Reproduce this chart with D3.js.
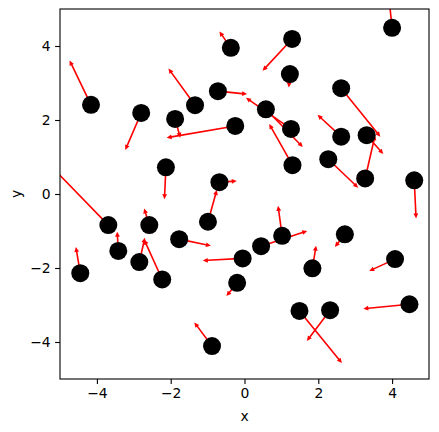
<!DOCTYPE html>
<html>
<head>
<meta charset="utf-8">
<script src="https://cdn.jsdelivr.net/npm/d3@7"></script>
<style>
  body { margin: 0; background: #fff; }
  text { font-family: "DejaVu Sans", sans-serif; fill: #000; }
</style>
</head>
<body>
<script>
// point positions (data units)
var xs = [-0.37, 1.29, 4.00, 1.23, -4.16, -2.80, -1.88, -1.34, -0.72, -0.25,
          0.58, 1.26, 2.62, 1.30, 2.62, 3.31, 2.27, 3.27, 4.60, -2.13,
          -0.68, -3.69, -3.42, -2.58, -2.85, -2.23, -4.45, -1.77, -0.99, -0.05,
          -0.20, 0.45, 1.02, 2.72, 1.84, 4.08, 4.47, 1.49, 2.32, -0.88];
var ys = [3.95, 4.19, 4.49, 3.24, 2.41, 2.19, 2.03, 2.40, 2.78, 1.84,
          2.29, 1.76, 2.86, 0.78, 1.55, 1.59, 0.94, 0.42, 0.37, 0.72,
          0.32, -0.84, -1.54, -0.84, -1.84, -2.31, -2.14, -1.22, -0.75, -1.74,
          -2.40, -1.41, -1.13, -1.09, -2.01, -1.76, -2.98, -3.16, -3.14, -4.11];
// arrow components (data units)
var us = [-0.31, -0.80, -0.08, -0.03, -0.58, -0.43, 0.14, -0.72, 0.79, -1.86,
          1.00, -1.22, 1.06, -0.63, -0.64, 0.45, 0.81, 0.27, 0.05, -0.04,
          0.47, -1.58, -0.03, -0.14, 0.15, -0.49, -0.12, 0.86, 0.24, -1.08,
          -0.29, 1.25, -0.11, -0.27, 0.10, -0.70, -1.25, 1.15, -0.63, -0.48];
var vs = [0.44, -0.86, 0.76, -0.36, 1.20, -1.00, -0.51, 0.99, -0.08, -0.32,
          -1.02, 0.84, -1.31, 1.11, 0.59, -0.51, -0.77, 1.17, -1.03, -0.86,
          0.03, 1.62, 0.52, 0.45, 0.66, 1.08, 0.71, -0.18, 0.86, -0.06,
          -0.36, 0.41, 0.81, -0.34, 0.61, -0.32, -0.12, -1.41, -0.83, 0.64];
var xTicks = [-4, -2, 0, 2, 4];
var yTicks = [-4, -2, 0, 2, 4];

var W = 439, H = 432;
var m = {left: 60, right: 10, top: 9, bottom: 53};

var svg = d3.select("body").append("svg")
  .attr("width", W)
  .attr("height", H);

var x = d3.scaleLinear().domain([-5, 5]).range([m.left, W - m.right]);
var y = d3.scaleLinear().domain([-5, 5]).range([H - m.bottom, m.top]);

svg.append("clipPath").attr("id", "clip")
  .append("rect")
  .attr("x", m.left).attr("y", m.top)
  .attr("width", x(5) - x(-5)).attr("height", y(-5) - y(5));

var plot = svg.append("g").attr("clip-path", "url(#clip)");

var data = xs.map(function(d, i){
  return {x: d, y: ys[i], u: us[i], v: vs[i]};
});

// arrows as polygons: shaft + small head, like a quiver
function arrowPath(d){
  var x0 = x(d.x), y0 = y(d.y);
  var x1 = x(d.x + d.u), y1 = y(d.y + d.v);
  var dx = x1 - x0, dy = y1 - y0;
  var len = Math.sqrt(dx*dx + dy*dy);
  var ux = dx / len, uy = dy / len;
  var nx = -uy, ny = ux;
  var sw = 0.8, hw = 2.4, hl = Math.min(5, len * 0.5);
  var bx = x1 - ux * hl, by = y1 - uy * hl;
  var pts = [
    [x0 + nx*sw, y0 + ny*sw],
    [bx + nx*sw, by + ny*sw],
    [bx + nx*hw, by + ny*hw],
    [x1, y1],
    [bx - nx*hw, by - ny*hw],
    [bx - nx*sw, by - ny*sw],
    [x0 - nx*sw, y0 - ny*sw]
  ];
  return "M" + pts.map(function(p){ return p[0].toFixed(2) + "," + p[1].toFixed(2); }).join("L") + "Z";
}

plot.selectAll("path.arrow")
  .data(data)
  .enter().append("path")
  .attr("class", "arrow")
  .attr("d", arrowPath)
  .style("fill", "red");

plot.selectAll("circle")
  .data(data)
  .enter().append("circle")
  .attr("cx", function(d){ return x(d.x); })
  .attr("cy", function(d){ return y(d.y); })
  .attr("r", 9)
  .style("fill", "black");

// axes
var xAxis = d3.axisBottom(x).tickValues(xTicks).tickSize(4.9).tickPadding(4.5);
var yAxis = d3.axisLeft(y).tickValues(yTicks).tickSize(4.9).tickPadding(4.5);

var gx = svg.append("g")
  .attr("transform", "translate(0," + y(-5) + ")")
  .call(xAxis);
var gy = svg.append("g")
  .attr("transform", "translate(" + x(-5) + ",0)")
  .call(yAxis);

[gx, gy].forEach(function(g){
  g.select(".domain").remove();
  g.selectAll("line").attr("stroke", "#000").attr("stroke-width", 1.1);
  g.selectAll("text").style("font-size", "13.9px").style("font-family", "DejaVu Sans, sans-serif");
});

svg.append("rect")
  .attr("x", x(-5)).attr("y", y(5))
  .attr("width", x(5) - x(-5)).attr("height", y(-5) - y(5))
  .style("fill", "none").style("stroke", "#000").style("stroke-width", 1.1);

svg.append("text")
  .attr("x", (x(-5) + x(5)) / 2)
  .attr("y", 421)
  .attr("text-anchor", "middle")
  .style("font-size", "13.9px")
  .text("x");

svg.append("text")
  .attr("transform", "translate(21," + ((y(-5) + y(5)) / 2) + ") rotate(-90)")
  .attr("text-anchor", "middle")
  .style("font-size", "13.9px")
  .text("y");
</script>
</body>
</html>
